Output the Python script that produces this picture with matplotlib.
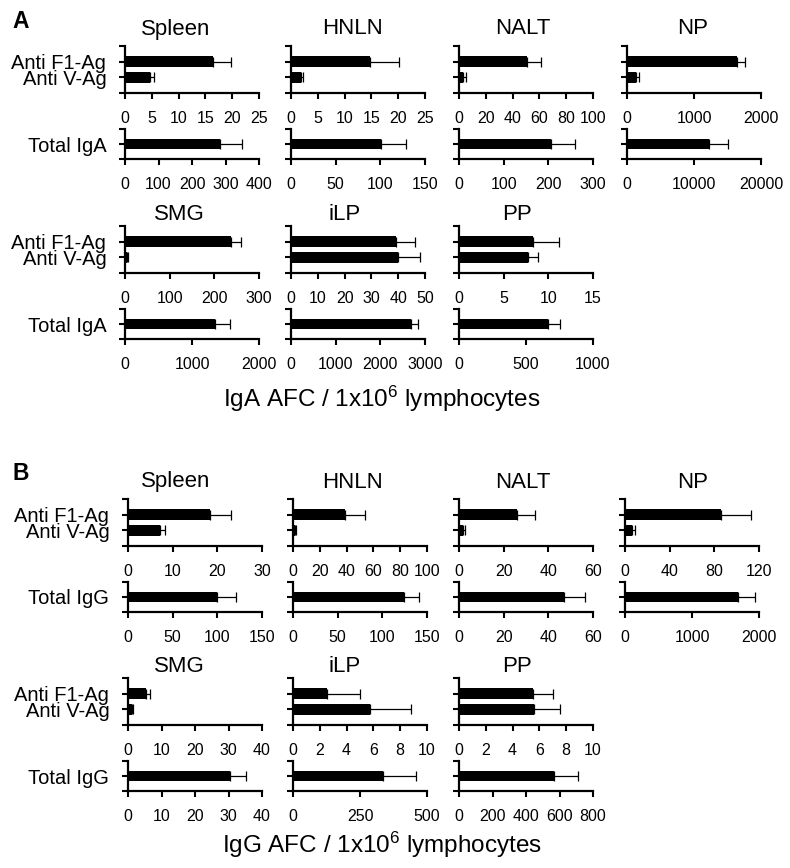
import numpy as np
import matplotlib
matplotlib.use("Agg")
import matplotlib.pyplot as plt

plt.rcParams['font.family'] = ['Liberation Sans', 'DejaVu Sans']
plt.rcParams['mathtext.fontset'] = 'custom'
plt.rcParams['mathtext.rm'] = 'Liberation Sans'
plt.rcParams['mathtext.default'] = 'regular'

# ---------------- data ----------------
organs = ["Spleen", "HNLN", "NALT", "NP", "SMG", "iLP", "PP"]
ag_labels = ["Anti V-Ag", "Anti F1-Ag"]

# Panel A: IgA
iga_f1 = [16.4, 14.8, 50.5, 1636, 238, 39.2, 8.3]
iga_f1_err = [3.4, 5.4, 10.5, 127, 21, 7.2, 2.9]
iga_v = [4.7, 1.8, 3.0, 136, 5, 39.8, 7.7]
iga_v_err = [0.7, 0.5, 2.0, 36, 1, 8.2, 1.1]
iga_total = [283, 101, 207, 12300, 1350, 2683, 665]
iga_total_err = [65, 28, 53, 2700, 223, 158, 92]
iga_ag_max = [25, 25, 100, 2000, 300, 50, 15]
iga_ag_step = [5, 5, 20, 1000, 100, 10, 5]
iga_tot_max = [400, 150, 300, 20000, 2000, 3000, 1000]
iga_tot_step = [100, 50, 100, 10000, 1000, 1000, 500]

# Panel B: IgG
igg_f1 = [18.4, 38.6, 25.9, 85.7, 5.5, 2.55, 5.5]
igg_f1_err = [4.6, 14.8, 8.2, 27, 1.0, 2.45, 1.5]
igg_v = [7.1, 1.7, 2.0, 6.0, 1.2, 5.75, 5.6]
igg_v_err = [1.1, 0.3, 0.5, 3.0, 0.4, 3.05, 1.9]
igg_total = [99.4, 123.7, 46.8, 1680, 30.5, 334, 567]
igg_total_err = [21, 17, 9.7, 264, 4.6, 125, 146]
igg_ag_max = [30, 100, 60, 120, 40, 10, 10]
igg_ag_step = [10, 20, 20, 40, 10, 2, 2]
igg_tot_max = [150, 150, 60, 2000, 40, 500, 800]
igg_tot_step = [50, 50, 20, 1000, 10, 250, 200]

# ---------------- layout (pixels) ----------------
W, H = 790, 868
fig = plt.figure(figsize=(W / 100, H / 100), dpi=100)


def box(x, ytop, w, h):
    return [x / W, 1 - (ytop + h) / H, w / W, h / H]


def style(ax, xmax, step, fs=11.5):
    for s in ['top', 'right']:
        ax.spines[s].set_visible(False)
    for s in ['left', 'bottom']:
        ax.spines[s].set_linewidth(1.6)
    ax.set_xlim(0, xmax)
    ticks = np.arange(0, xmax + step / 2, step)
    ax.set_xticks(ticks)
    ax.set_xticklabels([f"{t:g}" for t in ticks], fontsize=fs)
    ax.tick_params(axis='x', direction='out', length=4.5, width=1.5, pad=8.5)
    ax.tick_params(axis='y', direction='out', length=4.5, width=1.5, pad=9)


def draw_panel(letter, ylab_total, row_tops, col_lefts, f1, f1e, v, ve, tot, tote,
               agmax, agstep, totmax, totstep, xlabel, xlabel_y, letter_y):
    fig.text(12 / W, 1 - letter_y / H, letter, fontsize=16.5, fontweight='bold',
             ha='left', va='baseline')
    title_x = [[176, 352, 523, 693], [179, 345, 517]]
    title_off = [11.5, 5.5]
    idx = 0
    for r, ncol in enumerate([4, 3]):
        T = row_tops[r]
        for c in range(ncol):
            i = idx
            idx += 1
            x0 = col_lefts[c]
            # antigen-specific axes
            ax = fig.add_axes(box(x0, T, 134, 47))
            ax.barh([2], [f1[i]], height=0.7, color='black', left=0)
            ax.barh([1], [v[i]], height=0.7, color='black', left=0)
            ax.errorbar([f1[i], v[i]], [2, 1], xerr=[[0, 0], [f1e[i], ve[i]]],
                        fmt='none', ecolor='black', elinewidth=0.9, capsize=3.5,
                        capthick=0.9)
            ax.set_ylim(0, 3)
            ax.set_yticks([0, 1, 2, 3])
            if c == 0:
                ax.set_yticklabels(["", ag_labels[0], ag_labels[1], ""], fontsize=14.5)
            else:
                ax.set_yticklabels([])
            style(ax, agmax[i], agstep[i])
            # total axes
            ax2 = fig.add_axes(box(x0, T + 83, 134, 30))
            ax2.barh([1], [tot[i]], height=0.7, color='black')
            ax2.errorbar([tot[i]], [1], xerr=[[0], [tote[i]]], fmt='none',
                         ecolor='black', elinewidth=0.9, capsize=3.5, capthick=0.9)
            ax2.set_ylim(0, 2)
            ax2.set_yticks([0, 1, 2])
            if c == 0:
                ax2.set_yticklabels(["", ylab_total, ""], fontsize=14.5)
            else:
                ax2.set_yticklabels([])
            style(ax2, totmax[i], totstep[i])
            fig.text(title_x[r][c] / W, 1 - (T - title_off[r]) / H, organs[i],
                     fontsize=16, ha='center', va='baseline')
    fig.text(382 / W, 1 - xlabel_y / H, xlabel, fontsize=17.5, ha='center',
             va='baseline')


draw_panel("A", "Total IgA", [46, 226], [125, 291, 459, 627],
           iga_f1, iga_f1_err, iga_v, iga_v_err, iga_total, iga_total_err,
           iga_ag_max, iga_ag_step, iga_tot_max, iga_tot_step,
           "IgA AFC / 1x10$^{6}$ lymphocytes", 406.5, 28)
draw_panel("B", "Total IgG", [499, 678], [128, 293, 459, 625],
           igg_f1, igg_f1_err, igg_v, igg_v_err, igg_total, igg_total_err,
           igg_ag_max, igg_ag_step, igg_tot_max, igg_tot_step,
           "IgG AFC / 1x10$^{6}$ lymphocytes", 853, 480)

fig.savefig("out.png", dpi=100)
